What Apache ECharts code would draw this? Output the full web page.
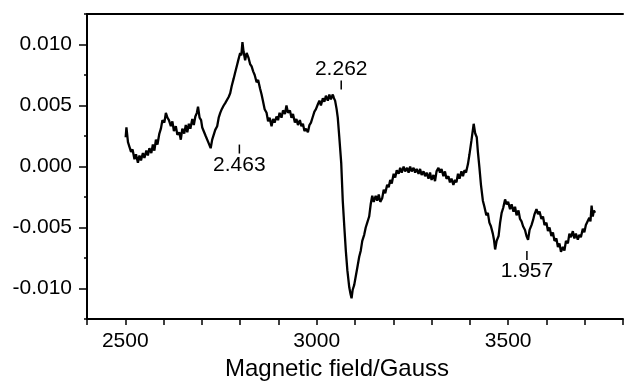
<!DOCTYPE html>
<html>
<head>
<meta charset="utf-8">
<script src="https://cdn.jsdelivr.net/npm/echarts@6/dist/echarts.min.js"></script>
<style>html,body{margin:0;padding:0;background:#fff}#c{width:626px;height:386px}</style>
</head>
<body>
<div id="c"></div>
<script>
// Magnetic field (Gauss) and EPR signal
const field = [
2501,2503,2507,2511,2515,2519,2524,2528,2533,2537,2541,2546,2550,2555,2559,2563,2568,2572,2576,2580,
2584,2589,2593,2597,2602,2606,2610,2614,2619,2623,2627,2632,2636,2641,2645,2649,2654,2658,2662,2666,
2670,2675,2679,2683,2687,2690,2694,2698,2701,2705,2710,2714,2718,2723,2727,2731,2735,2740,2744,2748,
2752,2757,2761,2765,2770,2774,2778,2783,2787,2791,2795,2800,2803,2806,2809,2813,2817,2822,2826,2830,
2834,2838,2843,2847,2852,2856,2860,2864,2869,2873,2877,2882,2886,2890,2895,2899,2903,2908,2912,2917,
2921,2925,2930,2934,2938,2943,2947,2951,2956,2960,2964,2968,2972,2977,2981,2985,2990,2994,2998,3003,
3007,3011,3016,3020,3024,3029,3033,3037,3042,3045,3048,3052,3055,3059,3064,3068,3072,3076,3080,3085,
3088,3091,3094,3098,3102,3106,3111,3115,3119,3124,3128,3132,3137,3141,3145,3149,3154,3158,3162,3166,
3171,3175,3179,3184,3188,3192,3196,3201,3205,3209,3214,3218,3222,3227,3231,3236,3240,3244,3248,3253,
3257,3261,3266,3270,3274,3279,3283,3287,3292,3296,3300,3305,3309,3313,3318,3322,3326,3331,3335,3339,
3344,3348,3352,3357,3361,3365,3369,3373,3378,3382,3386,3390,3395,3399,3404,3407,3410,3414,3418,3421,
3425,3429,3434,3438,3443,3447,3451,3455,3460,3463,3466,3470,3475,3479,3483,3487,3492,3496,3500,3505,
3509,3514,3518,3522,3527,3531,3535,3539,3544,3548,3552,3556,3561,3565,3569,3574,3578,3582,3587,3591,
3595,3600,3604,3608,3613,3617,3621,3626,3630,3634,3638,3643,3647,3651,3656,3660,3664,3669,3673,3677,
3682,3686,3690,3695,3699,3703,3708,3712,3715,3718,3721,3724,3727
];
const signal = [
0.0024,0.0032,0.0020,0.0019,0.0012,0.0014,0.0006,0.0010,0.0003,0.0009,0.0005,0.0011,0.0007,0.0013,0.0009,0.0015,0.0011,0.0018,0.0013,0.0022,
0.0018,0.0027,0.0031,0.0038,0.0036,0.0044,0.0040,0.0038,0.0033,0.0037,0.0029,0.0033,0.0026,0.0028,0.0022,0.0031,0.0027,0.0034,0.0028,0.0035,
0.0031,0.0039,0.0034,0.0041,0.0044,0.0049,0.0040,0.0038,0.0032,0.0031,0.0025,0.0026,0.0019,0.0015,0.0022,0.0021,0.0030,0.0033,0.0040,0.0044,
0.0047,0.0050,0.0052,0.0051,0.0057,0.0060,0.0066,0.0072,0.0077,0.0082,0.0087,0.0093,0.0091,0.0102,0.0094,0.0087,0.0093,0.0089,0.0084,0.0082,
0.0078,0.0075,0.0069,0.0071,0.0064,0.0059,0.0053,0.0047,0.0044,0.0037,0.0040,0.0033,0.0039,0.0036,0.0041,0.0038,0.0044,0.0040,0.0046,0.0043,
0.0050,0.0044,0.0046,0.0040,0.0043,0.0036,0.0039,0.0034,0.0038,0.0033,0.0035,0.0029,0.0031,0.0028,0.0034,0.0036,0.0041,0.0045,0.0047,0.0051,
0.0054,0.0050,0.0056,0.0053,0.0058,0.0054,0.0059,0.0055,0.0059,0.0056,0.0054,0.0047,0.0040,0.0024,0.0003,-0.0028,-0.0049,-0.0069,-0.0085,-0.0099,
-0.0104,-0.0108,-0.0101,-0.0097,-0.0090,-0.0083,-0.0074,-0.0069,-0.0061,-0.0056,-0.0050,-0.0046,-0.0041,-0.0031,-0.0024,-0.0029,-0.0024,-0.0028,-0.0023,-0.0029,
-0.0026,-0.0019,-0.0022,-0.0015,-0.0017,-0.0011,-0.0014,-0.0006,-0.0009,-0.0003,-0.0006,-0.0001,-0.0005,0.0000,-0.0004,-0.0001,-0.0005,0.0000,-0.0004,-0.0001,
-0.0005,-0.0002,-0.0006,-0.0002,-0.0007,-0.0004,-0.0008,-0.0005,-0.0010,-0.0005,-0.0011,-0.0007,-0.0012,-0.0004,-0.0001,-0.0005,-0.0002,-0.0008,-0.0004,-0.0010,
-0.0008,-0.0013,-0.0010,-0.0015,-0.0011,-0.0013,-0.0006,-0.0010,-0.0004,-0.0008,-0.0003,-0.0005,0.0002,0.0010,0.0021,0.0028,0.0035,0.0027,0.0024,0.0012,
-0.0001,-0.0015,-0.0028,-0.0033,-0.0040,-0.0038,-0.0046,-0.0049,-0.0055,-0.0060,-0.0068,-0.0061,-0.0057,-0.0046,-0.0038,-0.0034,-0.0027,-0.0031,-0.0029,-0.0035,
-0.0031,-0.0037,-0.0033,-0.0040,-0.0036,-0.0043,-0.0045,-0.0049,-0.0052,-0.0057,-0.0060,-0.0052,-0.0048,-0.0044,-0.0039,-0.0035,-0.0039,-0.0037,-0.0043,-0.0041,
-0.0048,-0.0046,-0.0053,-0.0050,-0.0057,-0.0054,-0.0061,-0.0059,-0.0066,-0.0063,-0.0070,-0.0066,-0.0069,-0.0061,-0.0063,-0.0055,-0.0058,-0.0053,-0.0059,-0.0055,
-0.0060,-0.0056,-0.0058,-0.0051,-0.0054,-0.0048,-0.0049,-0.0042,-0.0045,-0.0032,-0.0041,-0.0036,-0.0038
];
// g-value annotations
const annoField = [2798, 3064, 3549];
const annoValue = [0.00143, 0.00668, -0.0073];
const annoText = ['2.463', '2.262', '1.957'];
const annoPos = ['bottom', 'top', 'bottom'];
// axis ticks
const yMajor = [-0.01, -0.005, 0, 0.005, 0.01];
const xLabels = [2500, 3000, 3500];

const font = 'Arial, "Liberation Sans", sans-serif';
const chart = echarts.init(document.getElementById('c'), null, {renderer: 'canvas'});
chart.setOption({
  animation: false,
  backgroundColor: '#fff',
  grid: {left: 87, top: 14, width: 541, bottom: 67, containLabel: false},
  xAxis: [{
    type: 'value', min: 2400, max: 3800, interval: 100,
    name: 'Magnetic field/Gauss', nameLocation: 'middle', nameGap: 30,
    nameTextStyle: {fontFamily: font, fontSize: 24, color: '#000', padding: [0, 36, 0, 0]},
    axisLine: {show: true, onZero: false, lineStyle: {color: '#000', width: 2}},
    axisTick: {show: true, length: 6, lineStyle: {color: '#000', width: 1.5}},
    axisLabel: {fontFamily: font, fontSize: 21, color: '#000', margin: 12,
      formatter: v => (xLabels.indexOf(v) >= 0 ? String(v) : '')},
    splitLine: {show: false}
  }, {
    type: 'value', position: 'top', min: 2400, max: 3800,
    axisLine: {show: true, onZero: false, lineStyle: {color: '#000', width: 2}},
    axisTick: {show: false}, axisLabel: {show: false}, splitLine: {show: false}
  }],
  yAxis: [{
    type: 'value', min: -0.0125, max: 0.0125, position: 'left',
    axisLine: {show: true, onZero: false, lineStyle: {color: '#000', width: 2}},
    axisTick: {show: true, length: 8, customValues: yMajor, lineStyle: {color: '#000', width: 1.5}},
    axisLabel: {fontFamily: font, fontSize: 21, color: '#000', margin: 15, customValues: yMajor,
      formatter: v => v.toFixed(3)},
    splitLine: {show: false}
  }, {
    type: 'value', min: -0.0125, max: 0.0125, interval: 0.0025, position: 'left',
    axisLine: {show: false, onZero: false},
    axisTick: {show: true, length: 3, lineStyle: {color: '#000', width: 1.5}},
    axisLabel: {show: false}, splitLine: {show: false}
  }],
  series: [{
    type: 'line', xAxisIndex: 0, yAxisIndex: 0,
    data: field.map((f, i) => [f, signal[i]]),
    showSymbol: false, symbol: 'none',
    lineStyle: {color: '#000', width: 2.3}
  }, {
    type: 'scatter', xAxisIndex: 0, yAxisIndex: 0,
    symbol: 'rect', symbolSize: [1.5, 9],
    itemStyle: {color: '#000', opacity: 1},
    data: annoField.map((f, i) => ({
      value: [f, annoValue[i]],
      label: {show: true, position: annoPos[i], distance: 1, formatter: annoText[i],
        fontFamily: font, fontSize: 21, color: '#000', opacity: 1}
    }))
  }]
});
</script>
</body>
</html>
